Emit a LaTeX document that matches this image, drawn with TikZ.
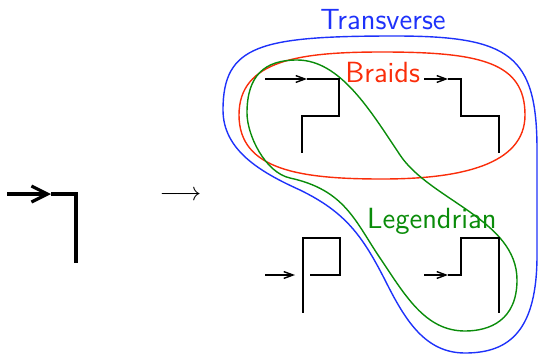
\documentclass[tikz,border=0pt]{standalone}
\usepackage{fontspec}
\usepackage{amsmath}
\usepackage{graphicx}
\usetikzlibrary{arrows.meta, positioning}

\definecolor{transblue}{RGB}{30,50,250}
\definecolor{braidred}{RGB}{250,45,10}
\definecolor{legendgreen}{RGB}{10,140,10}

\begin{document}
\begin{tikzpicture}[
  x=0.5pt, y=-0.5pt,
  strand/.style={line width=0.85pt, black},
  bigstrand/.style={line width=1.6pt, black},
  dirarrow/.style={-{Straight Barb[length=4.6pt, width=3.4pt, line width=0.7pt]}},
  bigarrow/.style={-{Straight Barb[length=8pt, width=8pt]}},
  region/.style={line width=0.7pt},
  setname/.style={font=\fontsize{14.6}{17}\selectfont\sffamily, anchor=base, inner sep=0pt}
]
\useasboundingbox (0,0) rectangle (540,354);

% Transverse region
\draw[region, transblue] (395,36) .. controls (510,36) and (537,55) .. (537,150)
  -- (537,255) .. controls (537,330) and (510,353) .. (465,353)
  .. controls (425,353) and (405,320) .. (385,280)
  .. controls (362,235) and (345,212) .. (300,190)
  .. controls (260,172) and (223,150) .. (223,110)
  .. controls (223,45) and (260,36) .. (395,36) -- cycle;

% Braids region
\draw[region, braidred] (382,52) .. controls (480,52) and (525,62) .. (525,115)
  .. controls (525,165) and (460,179) .. (382,179)
  .. controls (300,179) and (239,170) .. (239,115)
  .. controls (239,60) and (300,52) .. (382,52) -- cycle;

% Legendrian region
\draw[region, legendgreen] (297,60) .. controls (340,60) and (370,110) .. (400,155)
  .. controls (430,200) and (517,220) .. (517,280)
  .. controls (517,320) and (490,331) .. (465,331)
  .. controls (425,331) and (405,295) .. (380,258)
  .. controls (355,221) and (345,190) .. (290,178)
  .. controls (265,172.5) and (247,135) .. (247,113)
  .. controls (247,75) and (265,60) .. (297,60) -- cycle;

% Labels
\node[setname, text=transblue] (transverse) at (383,29) {Transverse};
\node[setname, text=braidred] (braids) at (382.7,82) {Braids};
\node[setname, text=legendgreen] (legendrian) at (431.8,228) {Legendrian};

% Single crossing and map
\draw[bigstrand, bigarrow] (7,194) -- (51,194);
\draw[bigstrand] (51,194) -- (76,194) -- (76,263);
\node[font=\fontsize{14.4}{17}\selectfont, inner sep=0pt] (maparrow) at (180.5,195.7) {\scalebox{0.9}{$\longrightarrow$}};

% Top-left braid
\draw[strand, dirarrow] (265,79) -- (307,79);
\draw[strand] (307,79) -- (339,79) -- (339,116) -- (302,116) -- (302,153);

% Top-right braid
\draw[strand, dirarrow] (424,79) -- (448,79);
\draw[strand] (448,79) -- (461,79) -- (461,116) -- (499,116) -- (499,153);

% Bottom-left braid
\draw[strand, dirarrow] (265,275) -- (295,275);
\draw[strand] (310,275) -- (340,275) -- (340,238) -- (302.7,238) -- (302.7,313);

% Bottom-right braid
\draw[strand, dirarrow] (424,275) -- (448,275);
\draw[strand] (448,275) -- (461,275) -- (461,238) -- (499,238) -- (499,313);

\end{tikzpicture}
\end{document}
